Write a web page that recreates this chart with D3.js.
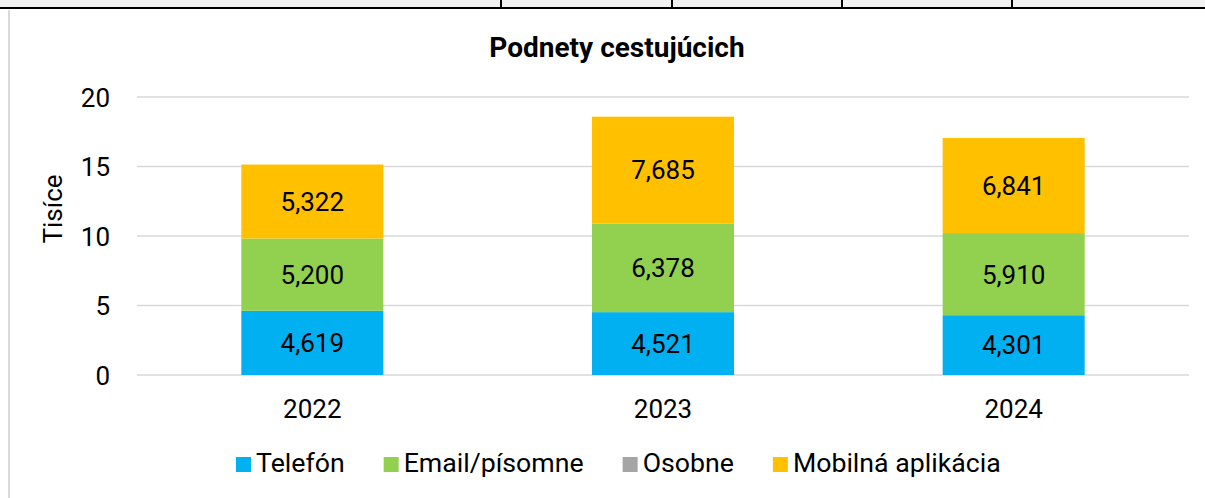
<!DOCTYPE html>
<html>
<head>
<meta charset="utf-8">
<script src="https://cdn.jsdelivr.net/npm/d3@7"></script>
<style>
  html, body { margin: 0; padding: 0; background: #fff; }
  svg { display: block; font-family: Roboto, "Noto Sans", sans-serif; }
</style>
</head>
<body>
<svg id="chart" width="1205" height="498"></svg>
<script>
// Podnety cestujúcich by channel, in thousands
const years = ["2022", "2023", "2024"];
const telefon = [4.619, 4.521, 4.301];
const email = [5.200, 6.378, 5.910];
const osobne = [0, 0, 0];
const mobilna = [5.322, 7.685, 6.841];
const seriesNames = ["Telefón", "Email/písomne", "Osobne", "Mobilná aplikácia"];
const seriesColors = ["#00B0F0", "#92D050", "#A5A5A5", "#FFC000"];
const yTicks = [0, 5, 10, 15, 20];
const title = "Podnety cestujúcich";
const yTitle = "Tisíce";

const W = 1205, H = 498;
const svg = d3.select("#chart");

// spreadsheet strip above the chart
svg.append("rect").attr("x", 0).attr("y", 0).attr("width", W).attr("height", 8).attr("fill", "#f2f2f2");
svg.append("line").attr("x1", 0).attr("x2", W).attr("y1", 8).attr("y2", 8)
  .attr("stroke", "#000").attr("stroke-width", 2);
[501, 672, 842, 1012].forEach(x => {
  svg.append("line").attr("x1", x).attr("x2", x).attr("y1", 0).attr("y2", 8)
    .attr("stroke", "#000").attr("stroke-width", 2);
});
// chart frame edge
svg.append("line").attr("x1", 9).attr("x2", 9).attr("y1", 10).attr("y2", H)
  .attr("stroke", "#d9d9d9").attr("stroke-width", 2);

const x = d3.scaleBand().domain(years).range([137, 1189]).paddingInner(0.595).paddingOuter(0.2975);
const y = d3.scaleLinear().domain([0, 20]).range([375, 97]);

// gridlines
svg.append("g").selectAll("line").data(yTicks).join("line")
  .attr("x1", 137).attr("x2", 1189)
  .attr("y1", d => y(d)).attr("y2", d => y(d))
  .attr("stroke", "#d9d9d9").attr("stroke-width", 1.5);

// y axis labels
const yAxis = svg.append("g").attr("transform", "translate(110,0)")
  .call(d3.axisLeft(y).tickValues(yTicks).tickSize(0).tickPadding(0));
yAxis.select(".domain").remove();
yAxis.selectAll("text").attr("font-size", 26).attr("fill", "#000")
  .attr("font-family", "Roboto").attr("dy", "0.36em");

// x axis labels
const xAxis = svg.append("g").attr("transform", "translate(0,375)")
  .call(d3.axisBottom(x).tickSize(0).tickPadding(0));
xAxis.select(".domain").remove();
xAxis.selectAll("text").attr("font-size", 26).attr("fill", "#000")
  .attr("font-family", "Roboto").attr("dy", null).attr("y", 43);

// stacked bars
const rows = years.map((yr, i) => ({
  year: yr,
  "Telefón": telefon[i],
  "Email/písomne": email[i],
  "Osobne": osobne[i],
  "Mobilná aplikácia": mobilna[i]
}));
const stack = d3.stack().keys(seriesNames)(rows);
const fmt = d3.format(",.0f");

const layers = svg.append("g").selectAll("g").data(stack).join("g")
  .attr("fill", (d, i) => seriesColors[i]);
layers.selectAll("rect").data(d => d).join("rect")
  .attr("x", d => x(d.data.year))
  .attr("width", x.bandwidth())
  .attr("y", d => y(d[1]))
  .attr("height", d => y(d[0]) - y(d[1]));

// value labels
stack.forEach(layer => {
  svg.append("g").selectAll("text").data(layer.filter(d => d[1] - d[0] > 0)).join("text")
    .attr("x", d => x(d.data.year) + x.bandwidth() / 2)
    .attr("y", d => (y(d[0]) + y(d[1])) / 2)
    .attr("dy", "0.36em")
    .attr("text-anchor", "middle")
    .attr("font-size", 26)
    .attr("fill", "#000")
    .text(d => fmt((d[1] - d[0]) * 1000));
});

// title
svg.append("text").attr("x", 617).attr("y", 57).attr("text-anchor", "middle")
  .attr("font-size", 28).attr("font-weight", "bold").attr("fill", "#000").text(title);

// y axis title
svg.append("text").attr("transform", "translate(62,209) rotate(-90)")
  .attr("text-anchor", "middle").attr("font-size", 26).attr("fill", "#000").text(yTitle);

// legend
const legend = svg.append("g");
let lx = 236;
seriesNames.forEach((name, i) => {
  const g = legend.append("g").attr("transform", `translate(${lx},0)`);
  g.append("rect").attr("x", 0).attr("y", 457).attr("width", 15).attr("height", 15).attr("fill", seriesColors[i]);
  const t = g.append("text").attr("x", 20).attr("y", 472).attr("font-size", 26.7).attr("fill", "#000").text(name);
  lx += 20 + t.node().getComputedTextLength() + 39;
});
</script>
</body>
</html>
